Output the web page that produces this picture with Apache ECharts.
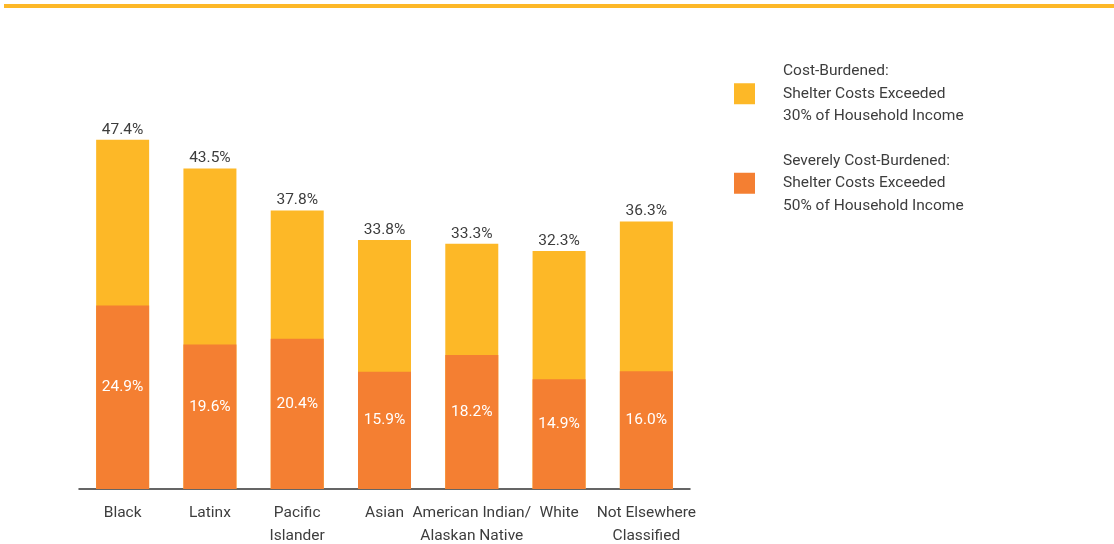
<!DOCTYPE html>
<html>
<head>
<meta charset="utf-8">
<script src="https://cdn.jsdelivr.net/npm/echarts@6/dist/echarts.min.js"></script>
<style>
  html, body { margin: 0; padding: 0; background: #fff; }
  #bar { position: absolute; left: 4px; top: 4px; width: 1110px; height: 4px; background: #FDB827; }
  #chart { width: 1114px; height: 544px; }
</style>
</head>
<body>
<div id="bar"></div>
<div id="chart"></div>
<script>
// Share of renter households by race/ethnicity
const categories = ['Black', 'Latinx', 'Pacific\nIslander', 'Asian', 'American Indian/\nAlaskan Native', 'White', 'Not Elsewhere\nClassified'];
const costBurdened = [47.4, 43.5, 37.8, 33.8, 33.3, 32.3, 36.3];
const severelyBurdened = [24.9, 19.6, 20.4, 15.9, 18.2, 14.9, 16.0];
const legendNames = [
  'Cost-Burdened:\nShelter Costs Exceeded\n30% of Household Income',
  'Severely Cost-Burdened:\nShelter Costs Exceeded\n50% of Household Income'
];

const FONT = '"Liberation Sans Narrow", "Roboto", sans-serif';
const TEXT = '#3d3d3d';

const chart = echarts.init(document.getElementById('chart'));
chart.setOption({
  animation: false,
  textStyle: { fontFamily: FONT },
  grid: { left: 79, right: 424, top: 47, bottom: 55, outerBoundsMode: 'none', containLabel: false },
  legend: {
    orient: 'vertical',
    left: 734,
    top: 60,
    padding: 0,
    itemWidth: 21,
    itemHeight: 21,
    itemGap: 22,
    icon: 'rect',
    selectedMode: false,
    textStyle: {
      fontFamily: FONT, fontSize: 15.5, color: TEXT,
      lineHeight: 22.5, padding: [0, 0, 0, 23]
    },
    data: legendNames
  },
  xAxis: {
    type: 'category',
    data: categories,
    axisLine: { lineStyle: { color: '#333', width: 1.5 } },
    axisTick: { show: false },
    axisLabel: {
      interval: 0, margin: 13, color: TEXT,
      fontFamily: FONT, fontSize: 15.5, lineHeight: 23
    }
  },
  yAxis: {
    type: 'value', min: 0, max: 60, show: false,
    splitLine: { show: false }
  },
  series: [
    {
      name: legendNames[0],
      type: 'bar',
      data: costBurdened,
      barWidth: 53,
      barGap: '-100%',
      itemStyle: { color: '#FDB827' },
      label: {
        show: true, position: 'top', distance: 2,
        formatter: p => p.value.toFixed(1) + '%',
        color: TEXT, fontFamily: FONT, fontSize: 15.5
      }
    },
    {
      name: legendNames[1],
      type: 'bar',
      data: severelyBurdened,
      barWidth: 53,
      barGap: '-100%',
      itemStyle: { color: '#F47F32' },
      label: {
        show: true, position: 'inside', offset: [0, -10],
        formatter: p => p.value.toFixed(1) + '%',
        color: '#fff', fontFamily: FONT, fontSize: 15.5
      }
    }
  ]
});
</script>
</body>
</html>
